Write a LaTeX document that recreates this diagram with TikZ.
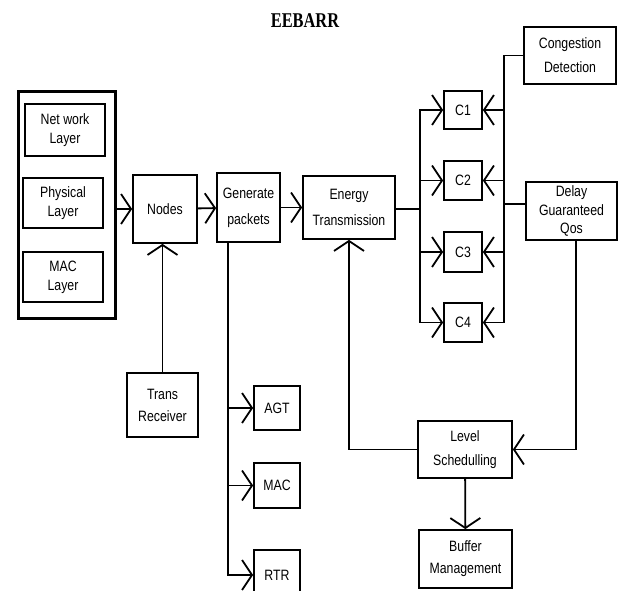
\documentclass[tikz,border=0pt]{standalone}
\usepackage{fontspec}
\setmainfont{Liberation Sans}[FakeStretch=0.82]
\newfontfamily\ttlfont{Liberation Serif}[FakeStretch=0.78]
\usetikzlibrary{arrows.meta,positioning,calc}
\tikzset{
  blk/.style={draw,line width=1.8pt,align=center,inner sep=0pt,
    font=\fontsize{15}{19}\selectfont},
  arr/.style={-{Straight Barb[length=10pt,width=30pt]},line width=1.8pt},
  ln/.style={line width=1.8pt},
}

\begin{document}
\begin{tikzpicture}[x=1pt,y=-1pt]
\useasboundingbox (0,0) rectangle (618,591);
\node[font=\ttlfont\bfseries\fontsize{21}{21}\selectfont] (ttl) at (305,21) {EEBARR};
% layer stack
\node[blk,line width=3pt,minimum width=97,minimum height=226] (stack) at (66.5,205) {};
\node[blk,minimum width=80,minimum height=52] (net) at (65,130) {Net work\\Layer};
\node[blk,minimum width=80,minimum height=50] (phy) at (63,203) {Physical\\Layer};
\node[blk,minimum width=80,minimum height=50] (maclay) at (63,277) {MAC\\Layer};
% main chain
\node[blk,minimum width=64,minimum height=68] (nodes) at (165,209) {Nodes};
\node[blk,minimum width=63,minimum height=69,font=\fontsize{15}{26}\selectfont] (gen) at (248.5,207.5) {Generate\\packets};
\node[blk,minimum width=92,minimum height=63,font=\fontsize{15}{26}\selectfont] (energy) at (349,207.5) {Energy\\Transmission};
\node[blk,minimum width=71,minimum height=64,font=\fontsize{15}{22}\selectfont] (trans) at (162.5,405) {Trans\\Receiver};
% channels
\node[blk,minimum width=38,minimum height=38] (c1) at (463,110) {C1};
\node[blk,minimum width=38,minimum height=39] (c2) at (463,180.5) {C2};
\node[blk,minimum width=38,minimum height=40] (c3) at (463,252) {C3};
\node[blk,minimum width=38,minimum height=39] (c4) at (463,322.5) {C4};
\node[blk,minimum width=92,minimum height=57,font=\fontsize{15}{24}\selectfont] (cong) at (570,55.5) {Congestion\\Detection};
\node[blk,minimum width=91,minimum height=58,font=\fontsize{15}{18.5}\selectfont] (delay) at (571.5,211) {Delay\\Guaranteed\\Qos};
\node[blk,minimum width=94,minimum height=57,font=\fontsize{15}{24}\selectfont] (level) at (465,449.5) {Level\\Schedulling};
\node[blk,minimum width=93,minimum height=58,font=\fontsize{15}{22}\selectfont] (buffer) at (465.5,559) {Buffer\\Management};
% packet types
\node[blk,minimum width=46,minimum height=44] (agt) at (277,408) {AGT};
\node[blk,minimum width=46,minimum height=45] (mac) at (277,485.5) {MAC};
\node[blk,minimum width=46,minimum height=50] (rtr) at (277,575) {RTR};

\coordinate (jl) at (420,209);
\coordinate (jr) at (504,204);
\draw[arr] (stack.east |- nodes) -- (nodes);
\draw[arr] (nodes) -- (gen);
\draw[arr] (gen) -- (energy);
\draw[arr] (trans.north) -- (trans.north |- nodes.south);
\draw[ln] (energy.east |- jl) -- (jl);
\foreach \c in {c1,c2,c3,c4} {
  \draw[arr] (jl) |- (\c.west);
  \draw[arr] (jr) |- (\c.east);
}
\draw[ln] (cong.west) -| (jr);
\draw[ln] (delay.west |- jr) -- (jr);
\draw[arr] ([xshift=4.5pt]delay.south) |- (level.east);
\draw[arr] (level.west) -| (energy.south);
\draw[arr] (level) -- (buffer);
\foreach \p in {agt,mac,rtr}
  \draw[arr] ([xshift=-20.5pt]gen.south) |- (\p.west);
\end{tikzpicture}
\end{document}
